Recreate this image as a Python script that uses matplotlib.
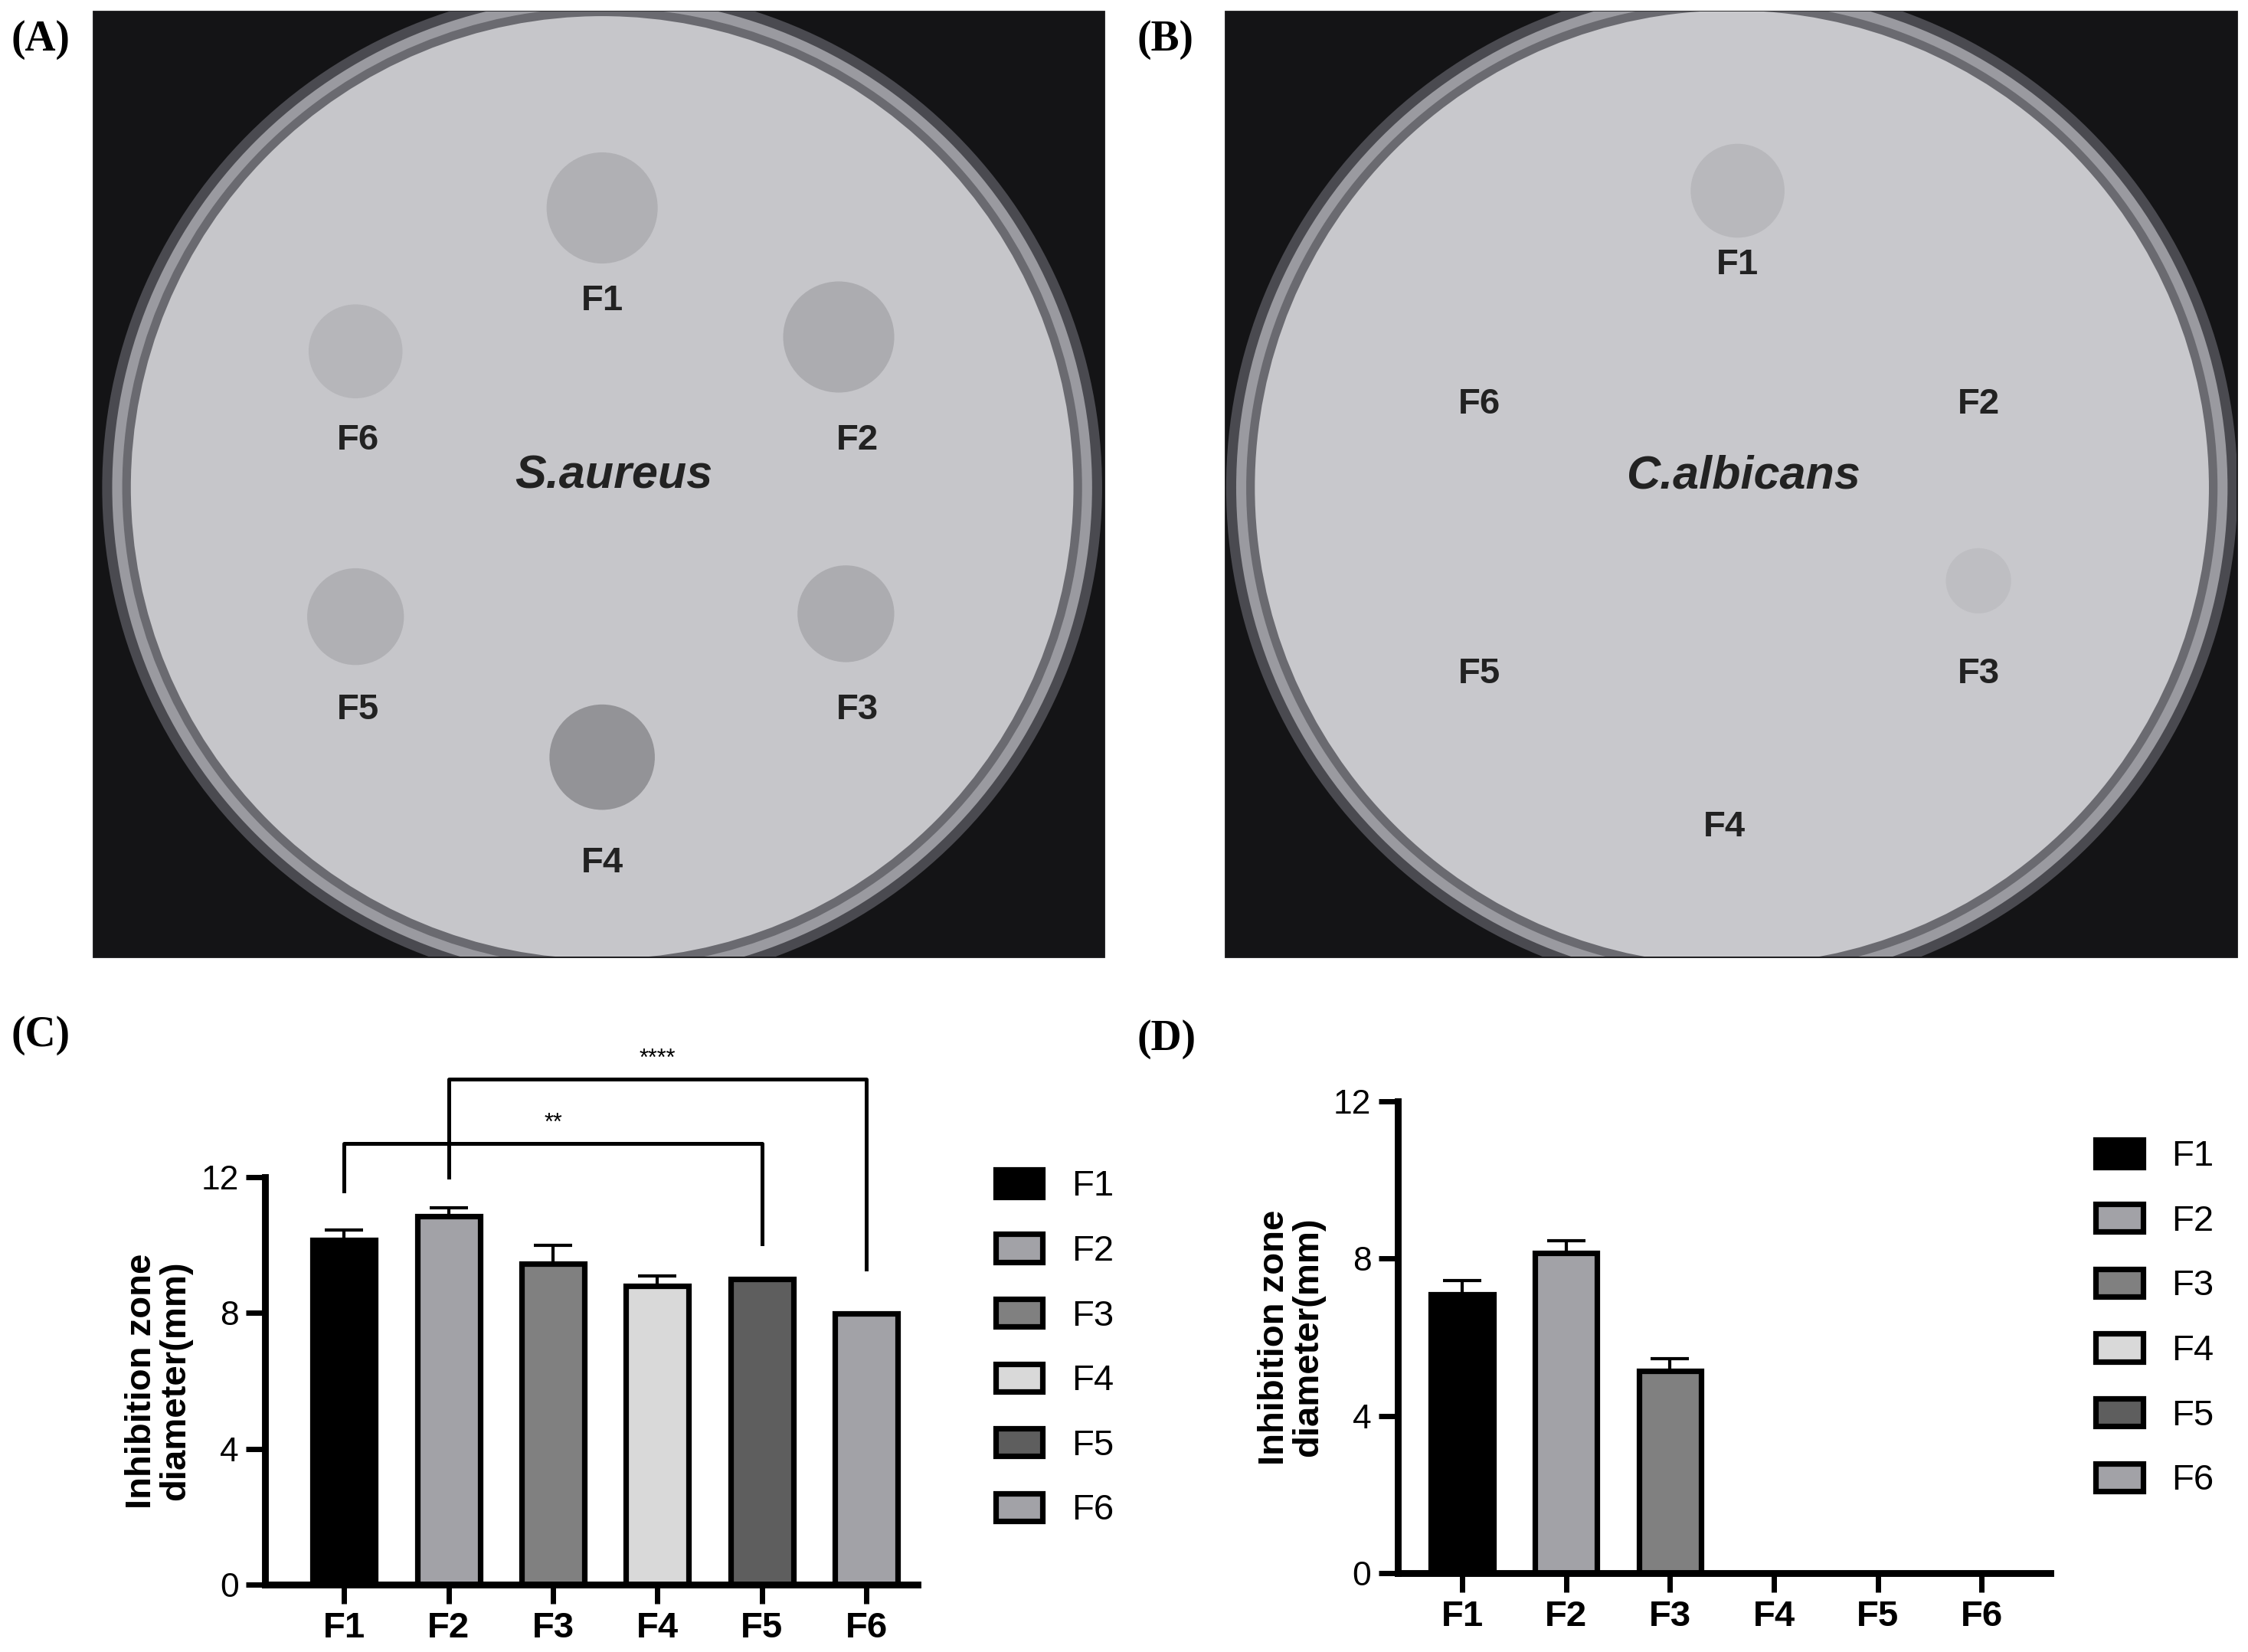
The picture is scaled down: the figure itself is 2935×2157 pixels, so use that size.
import matplotlib
matplotlib.use("Agg")
import matplotlib.pyplot as plt
from matplotlib.patches import Circle, Rectangle
import numpy as np

plt.rcParams['font.family'] = ['Liberation Sans', 'DejaVu Sans']

groups = ["F1", "F2", "F3", "F4", "F5", "F6"]
colors = ["#000000", "#a2a2a7", "#808080", "#d9d9d9", "#5e5e5e", "#a2a2a7"]
sa_mean = [10.15, 10.85, 9.45, 8.8, 9.0, 7.98]
sa_err = [0.3, 0.25, 0.55, 0.3, 0.0, 0.0]
ca_mean = [7.1, 8.15, 5.15, 0, 0, 0]
ca_err = [0.35, 0.3, 0.3, 0, 0, 0]
yticks = [0, 4, 8, 12]

W, H = 1568, 1152
fig = plt.figure(figsize=(14.675, 10.785), dpi=200)
bg = fig.add_axes([0, 0, 1, 1])
bg.set_xlim(0, W); bg.set_ylim(H, 0); bg.axis("off")

def plate(x0, x1, cx, cy, r, fill, spots, labels, title):
    bg.add_patch(Rectangle((x0, 8), x1 - x0, 659, color="#141416", zorder=0))
    clip = Rectangle((x0, 8), x1 - x0, 659, transform=bg.transData)
    for rr, col in [(r, "#4a4a50"), (r - 7, "#9a9aa0"), (r - 14, "#6a6a70"), (r - 20, fill)]:
        c = Circle((cx, cy), rr, color=col, zorder=1)
        bg.add_patch(c)
        c.set_clip_path(clip)
    for (sx, sy, sr, sc) in spots:
        bg.add_patch(Circle((sx, sy), sr, color=sc, zorder=2))
    for (t, lx, ly) in labels:
        bg.text(lx, ly, t, ha="center", va="center", fontsize=17, fontweight="bold", color="#222", zorder=3)
    bg.text(cx + 8, 332, title, ha="center", va="center", fontsize=22, fontweight="bold",
            style="italic", color="#222", zorder=3)

plate(65, 770, 420, 340, 348, "#c6c6ca",
      [(420, 145, 38, "#b0b0b4"), (585, 235, 38, "#acacb0"), (248, 245, 32, "#b6b6ba"),
       (590, 428, 33, "#acacb0"), (248, 430, 33, "#b0b0b4"), (420, 528, 36, "#939397")],
      [("F1", 420, 210), ("F2", 598, 307), ("F6", 250, 307), ("F3", 598, 495), ("F5", 250, 495), ("F4", 420, 602)],
      "S.aureus")
plate(855, 1560, 1208, 340, 352, "#c8c8cc",
      [(1212, 133, 32, "#b8b8bc"), (1380, 405, 22, "#bebec2")],
      [("F1", 1212, 185), ("F2", 1380, 282), ("F6", 1032, 282), ("F3", 1380, 470), ("F5", 1032, 470), ("F4", 1203, 577)],
      "C.albicans")

for t, x, y in [("(A)", 8, 28), ("(B)", 793, 28), ("(C)", 8, 722), ("(D)", 793, 725)]:
    bg.text(x, y, t, fontsize=20, fontweight="bold", family="Liberation Serif", va="center")

def bars(rect, xlim, means, errs, legy):
    ax = fig.add_axes(rect)
    x = np.arange(len(groups))
    ax.bar(x, means, width=0.6, color=colors, edgecolor="black", linewidth=2.6, zorder=2)
    for xi, m, e in zip(x, means, errs):
        if e > 0:
            ax.errorbar(xi, m, yerr=[[0], [e]], color="black", capsize=9, capthick=1.5, elinewidth=1.5, zorder=1)
    ax.set_xlim(*xlim); ax.set_ylim(0, 12)
    ax.set_yticks(yticks)
    ax.set_xticks(x); ax.set_xticklabels(groups, fontsize=17, fontweight="bold")
    for l in ax.get_yticklabels():
        l.set_fontsize(16)
    for s in ["top", "right"]:
        ax.spines[s].set_visible(False)
    for s in ["left", "bottom"]:
        ax.spines[s].set_linewidth(3.2)
    ax.tick_params(width=2.5, length=9)
    ax.set_ylabel("Inhibition zone\ndiameter(mm)", fontsize=17, fontweight="bold", linespacing=1.0)
    ax.patch.set_alpha(0)
    handles = [Rectangle((0, 0), 1, 1, facecolor=c, edgecolor="black", linewidth=2.6) for c in colors]
    ax.legend(handles, groups, loc="center left", bbox_to_anchor=legy,
              frameon=False, fontsize=17, labelspacing=0.85, handlelength=1.3, handleheight=0.8,
              handletextpad=0.8)
    return ax

axc = bars([185 / W, 1 - 1105 / H, 455 / W, 284 / H], (-0.755, 5.49), sa_mean, sa_err, (1.07, 0.58))
axd = bars([975 / W, 1 - 1097 / H, 455 / W, 329 / H], (-0.62, 5.66), ca_mean, ca_err, (1.02, 0.54))

def bracket(ax, i, j, y, yi, yj, label):
    ax.plot([i, i, j, j], [yi, y, y, yj], color="black", lw=1.8, clip_on=False)
    ax.text((i + j) / 2, y + 0.25, label, ha="center", va="bottom", fontsize=11, clip_on=False)

bracket(axc, 0, 4, 13.0, 11.6, 10.05, "**")
bracket(axc, 1, 5, 14.9, 12.0, 9.3, "****")

fig.savefig("out.png", dpi=200)
